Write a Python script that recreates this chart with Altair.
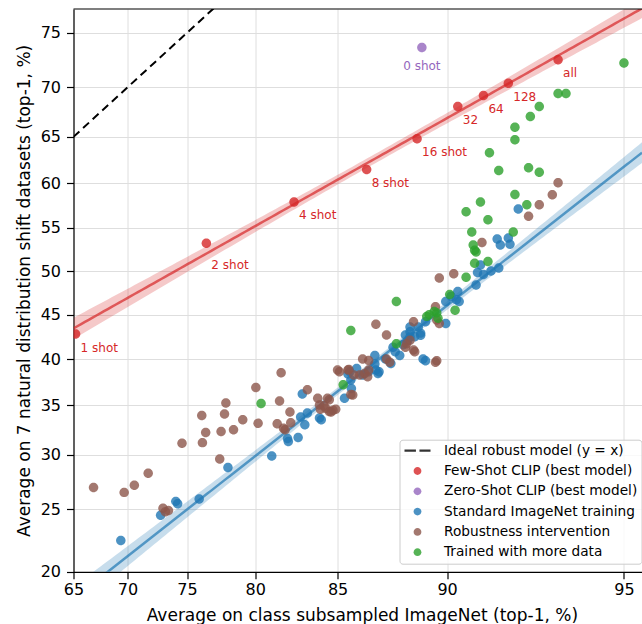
import altair as alt
import numpy as np
import pandas as pd

# ---------------- data (percent values) ----------------
few_x = [65.2, 76.5, 82.5, 86.5, 88.8, 90.4, 91.3, 92.1, 93.5]
few_y = [42.8, 53.2, 57.9, 61.5, 64.8, 68.1, 69.2, 70.4, 72.6]
few_lab = ["1 shot", "2 shot", "4 shot", "8 shot", "16 shot", "32", "64", "128", "all"]

zero_x = [89.0]
zero_y = [73.7]
zero_lab = ["0 shot"]

std_x = [69.4, 72.85, 74.1, 74.25, 75.95, 78.1, 81.1, 82.1, 82.15, 82.75,
         82.9, 83.15, 83.3, 83.0, 84.0, 84.1, 85.37, 85.73, 85.55, 85.65,
         86.9, 87.05, 86.95, 87.1, 87.4, 87.65, 87.85, 88.05, 88.7, 88.5,
         88.85, 88.95, 89.05, 89.15, 89.15, 89.95, 89.95, 90.15, 90.4, 90.45,
         91.05, 91.1, 91.2, 91.3, 91.55, 91.8, 91.75, 91.85, 92.1, 92.15,
         92.4, 88.3, 88.5, 88.95, 90.35, 86.9, 86.6, 86.3, 86.0, 85.7,
         88.4, 88.5, 88.2, 87.75]
std_y = [22.4, 24.5, 25.7, 25.5, 25.9, 28.8, 29.9, 31.6, 31.3, 31.7,
         33.8, 33.0, 34.2, 36.2, 33.7, 33.5, 35.75, 36.8, 38.35, 38.6,
         40.4, 38.4, 38.8, 38.6, 40.0, 39.5, 40.8, 40.4, 42.5, 43.05,
         43.6, 42.65, 40.0, 39.8, 44.2, 44.0, 46.5, 47.1, 47.65, 46.5,
         48.4, 49.85, 50.7, 49.6, 50.0, 50.35, 53.7, 53.0, 53.8, 53.1,
         57.1, 42.7, 43.6, 42.9, 46.7, 39.45, 38.6, 38.25, 38.95, 37.7,
         42.05, 42.45, 41.6, 41.3]

rob_x = [66.9, 69.7, 70.6, 71.8, 73.05, 73.25, 73.5, 74.6, 76.15, 76.2,
         76.45, 77.5, 77.6, 77.85, 77.95, 78.5, 79.15, 80.05, 80.2, 81.45,
         81.6, 81.85, 81.95, 82.25, 82.3, 81.7, 83.3, 83.9, 84.0, 84.05,
         84.45, 84.9, 84.35, 84.55, 84.75, 84.55, 84.65, 84.25, 85.1, 85.55,
         85.85, 85.8, 85.7, 89.7, 86.95, 87.45, 86.3, 85.6, 86.15, 86.4,
         86.55, 86.6, 86.6, 85.0, 87.45, 87.6, 88.5, 88.65, 88.7, 88.65,
         89.6, 89.55, 89.55, 89.6, 89.7, 88.3, 88.35, 90.25, 91.25, 92.7,
         93.0, 93.35, 93.5]
rob_y = [26.95, 26.5, 27.15, 28.25, 25.1, 24.8, 24.9, 31.15, 33.95, 31.2,
         32.2, 29.6, 32.3, 34.1, 35.25, 32.5, 33.5, 36.9, 33.15, 33.1,
         35.45, 32.65, 32.5, 34.3, 33.2, 38.5, 36.65, 35.75, 35.05, 34.6,
         35.75, 34.6, 34.7, 34.35, 34.5, 35.6, 34.3, 34.95, 38.6, 38.8,
         38.25, 36.1, 36.15, 49.2, 43.9, 42.7, 40.0, 38.85, 38.25, 38.4,
         38.05, 38.8, 39.85, 38.8, 40.0, 39.65, 42.1, 41.0, 40.8, 44.2,
         39.8, 39.65, 45.9, 44.4, 44.0, 41.3, 41.7, 49.7, 53.3, 56.3,
         57.6, 58.7, 60.05]

more_x = [95.0, 93.5, 93.7, 93.0, 92.75, 92.3, 92.3, 91.5, 91.8, 92.7,
          93.0, 92.3, 92.65, 91.2, 90.7, 91.45, 90.9, 92.25, 90.95, 91.0,
          91.05, 91.0, 91.45, 90.7, 90.1, 90.3, 87.9, 85.7, 89.3, 89.5,
          89.6, 89.65, 89.2, 87.9, 85.3, 80.4]
more_y = [72.3, 69.4, 69.4, 68.1, 67.1, 66.0, 64.7, 63.3, 61.4, 61.7,
          61.2, 58.75, 57.6, 57.9, 56.8, 55.9, 54.5, 54.5, 53.0, 52.4,
          52.2, 50.9, 51.1, 49.3, 47.3, 45.5, 46.5, 43.2, 45.0, 45.35,
          45.2, 44.6, 44.8, 41.7, 37.2, 35.2]

ideal_x = [65, 80]
ideal_y = [65, 80]

x_ticks = [65, 70, 75, 80, 85, 90, 95]
y_ticks = [20, 25, 30, 35, 40, 45, 50, 55, 60, 65, 70, 75]
x_range = [65, 95.35]
y_range = [20, 77.0]

series_names = ["Ideal robust model (y = x)", "Few-Shot CLIP (best model)",
                "Zero-Shot CLIP (best model)", "Standard ImageNet training",
                "Robustness intervention", "Trained with more data"]
series_colors = ["#000000", "#d62728", "#9467bd", "#1f77b4", "#8c564b", "#2ca02c"]

assert len(std_x) == len(std_y) and len(rob_x) == len(rob_y) and len(more_x) == len(more_y)

# ---------------- helpers ----------------
def logit(v):
    p = np.asarray(v, dtype=float) / 100.0
    return np.log(p / (1.0 - p))

XL = [float(v) for v in logit(x_range)]
YL = [float(v) for v in logit(y_range)]
W, H = 568.5, 562.8

rows = []
for name, xs, ys in [(series_names[3], std_x, std_y), (series_names[4], rob_x, rob_y),
                     (series_names[5], more_x, more_y), (series_names[1], few_x, few_y),
                     (series_names[2], zero_x, zero_y)]:
    for a, b in zip(xs, ys):
        rows.append({"group": name, "x": a, "y": b,
                     "lx": float(logit(a)), "ly": float(logit(b))})
pts = pd.DataFrame(rows)

few_df = pd.DataFrame({"lx": logit(few_x), "ly": logit(few_y), "label": few_lab})
zero_df = pd.DataFrame({"lx": logit(zero_x), "ly": logit(zero_y), "label": zero_lab})
ideal_df = pd.DataFrame({"lx": logit(ideal_x), "ly": logit(ideal_y)})


def fit_band(xs, ys):
    lx, ly = logit(xs), logit(ys)
    n = len(lx)
    b, a = np.polyfit(lx, ly, 1)
    resid = ly - (a + b * lx)
    s = np.sqrt((resid ** 2).sum() / (n - 2))
    grid = np.linspace(XL[0], XL[1], 150)
    se = s * np.sqrt(1.0 / n + (grid - lx.mean()) ** 2 / ((lx - lx.mean()) ** 2).sum())
    t = 1.96 + 2.4 / (n - 2)
    fit = a + b * grid
    return pd.DataFrame({"lx": grid, "fit": fit, "lo": fit - t * se, "hi": fit + t * se})


few_fit = fit_band(few_x, few_y)
std_fit = fit_band(std_x, std_y)

xscale = alt.Scale(domain=XL, nice=False, zero=False)
yscale = alt.Scale(domain=YL, nice=False, zero=False)
label_expr = "format(100/(1+exp(-datum.value)), '.0f')"
xaxis = alt.Axis(values=[float(v) for v in logit(x_ticks)], labelExpr=label_expr,
                 title="Average on class subsampled ImageNet (top-1, %)",
                 labelPadding=3, titlePadding=10, titleX=288.4, labelFlush=False)
yaxis = alt.Axis(values=[float(v) for v in logit(y_ticks)], labelExpr=label_expr,
                 title="Average on 7 natural distribution shift datasets (top-1, %)",
                 labelPadding=6, titlePadding=7)

X = alt.X("lx:Q", scale=xscale, axis=xaxis)
Y = alt.Y("ly:Q", scale=yscale, axis=yaxis)

ideal = alt.Chart(ideal_df).mark_line(color="black", strokeDash=[8, 5], strokeWidth=2,
                                       clip=True).encode(x=X, y=Y)


def band_layers(df, color):
    band = alt.Chart(df).mark_area(color=color, opacity=0.25, clip=True).encode(
        x=alt.X("lx:Q", scale=xscale), y=alt.Y("lo:Q", scale=yscale), y2="hi:Q")
    line = alt.Chart(df).mark_line(color=color, strokeWidth=2.5, opacity=0.7, clip=True).encode(
        x=alt.X("lx:Q", scale=xscale), y=alt.Y("fit:Q", scale=yscale))
    return band, line


fb, fl = band_layers(few_fit, "#d62728")
sb, sl = band_layers(std_fit, "#1f77b4")

circle_path = "M0.3,0A0.3,0.3,0,1,1,-0.3,0A0.3,0.3,0,1,1,0.3,0Z"
dash_path = "M-1,-0.09H-0.12V0.09H-1ZM0.15,-0.09H1V0.09H0.15Z"
shapes = [dash_path] + [circle_path] * 5

leg = alt.Legend(title=None, orient="none", legendX=326, legendY=430.7,
                 symbolSize=676, symbolStrokeWidth=0, clipHeight=14, rowPadding=6.3,
                 padding=4, labelOffset=13.5, symbolOffset=1,
                 labelFont="DejaVu Sans", labelFontSize=13.7, labelColor="black",
                 labelLimit=400, fillColor="rgba(255,255,255,0.8)",
                 strokeColor="#cccccc", cornerRadius=3)

points = alt.Chart(pts).mark_point(filled=True, opacity=0.8, size=1000, clip=True).encode(
    x=X, y=Y,
    color=alt.Color("group:N", scale=alt.Scale(domain=series_names, range=series_colors), legend=leg),
    shape=alt.Shape("group:N", scale=alt.Scale(domain=series_names, range=shapes), legend=leg),
)

txt = dict(font="DejaVu Sans", fontSize=12, baseline="middle")
few_text = alt.Chart(few_df).transform_filter("datum.label != '2 shot'").mark_text(
    align="left", dx=5, dy=13.5, color="#d62728", **txt).encode(x=X, y=Y, text="label:N")
few_text2 = alt.Chart(few_df).transform_filter("datum.label == '2 shot'").mark_text(
    align="left", dx=5, dy=21.7, color="#d62728", **txt).encode(x=X, y=Y, text="label:N")
zero_text = alt.Chart(zero_df).mark_text(align="center", dy=18, color="#9467bd", **txt).encode(
    x=X, y=Y, text="label:N")

top_border = alt.Chart(pd.DataFrame({"k": [0]})).mark_rule(color="black", strokeWidth=1.2).encode(
    x=alt.value(0), x2=alt.value(W), y=alt.value(0))

chart = alt.layer(ideal, fb, sb, fl, sl, points, few_text, few_text2, zero_text, top_border).properties(
    width=W, height=H,
    autosize=alt.AutoSizeParams(type="none"),
    padding={"left": 73.5, "top": 9, "right": 0, "bottom": 52.2},
).configure_view(stroke=None).configure_axis(
    labelFont="DejaVu Sans", titleFont="DejaVu Sans", labelFontSize=16, titleFontSize=17,
    titleFontWeight="normal", labelColor="black", titleColor="black",
    domainColor="black", domainWidth=1.2, tickColor="black", tickWidth=1.2, tickSize=7,
    gridColor="#dedede", gridWidth=1,
)

chart.save("out.html", embed_options={"renderer": "svg", "actions": False})
